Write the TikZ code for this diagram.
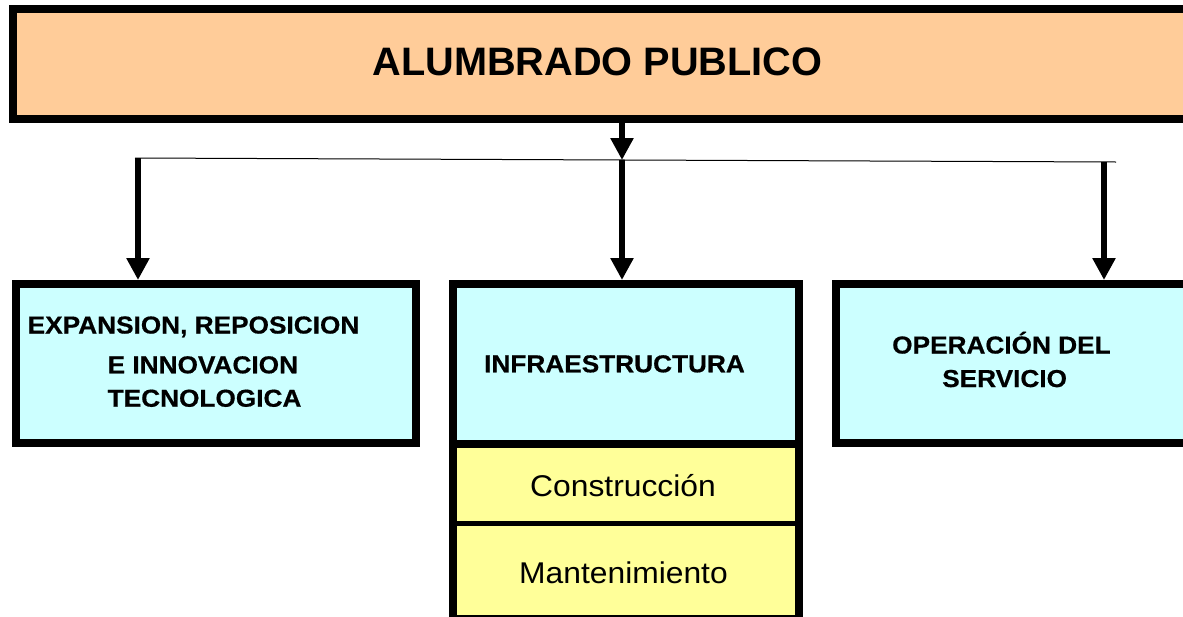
\documentclass[tikz,border=0pt]{standalone}
\usepackage{fontspec}
\setmainfont{Liberation Sans}
\newfontfamily\boldx[FakeStretch=1.07,FakeBold=0.6]{Liberation Sans}
\newfontfamily\regx[FakeStretch=1.06]{Liberation Sans}
\usetikzlibrary{arrows.meta}
\definecolor{peach}{HTML}{FFCC99}
\definecolor{lcyan}{HTML}{CCFFFF}
\definecolor{lyellow}{HTML}{FFFF99}
\begin{document}
\begin{tikzpicture}[x=1pt,y=-1pt,
  box/.style={draw=black,line width=8pt,rectangle,inner sep=0pt},
  ybox/.style={fill=lyellow,rectangle,inner sep=0pt,outer sep=0pt,minimum width=346pt},
  conn/.style={line width=6.5pt,-{Triangle[width=22pt,length=22pt]}},
  title/.style={inner sep=0pt,anchor=base,font=\bfseries\fontsize{39.7}{44}\selectfont},
  btxt/.style={inner sep=0pt,font=\boldx\bfseries\fontsize{24.5}{28}\selectfont},
  rtxt/.style={inner sep=0pt,anchor=base,font=\regx\fontsize{30}{34}\selectfont}]
\useasboundingbox (0,0) rectangle (1183,616);
\clip (0,0) rectangle (1183,616);

% boxes
\node[box,fill=peach,minimum width=1197pt,minimum height=109.5pt] (T) at (611.5,63.75) {};
\node[box,fill=lcyan,minimum width=400pt,minimum height=159pt] (L) at (216,363.5) {};
\node[box,fill=lcyan,minimum width=346pt,minimum height=160pt] (M) at (626,364) {};
\node[box,fill=lcyan,minimum width=374pt,minimum height=159pt] (R) at (1023,363.5) {};
\node[ybox,minimum height=79.5pt] (Y1) at (626,483.75) {};
\node[ybox,minimum height=95.5pt] (Y2) at (626,571.25) {};
\draw[line width=8pt] (Y1.north west) rectangle (Y2.south east);
\draw[line width=5pt] (Y1.south west) -- (Y1.south east);

% texts
\node[title] (tt) at (597.5,75.7) {ALUMBRADO PUBLICO};
\node[btxt,anchor=base west] (lt1) at (27.5,333.5) {EXPANSION, REPOSICION};
\node[btxt,anchor=base west] (lt2) at (107.5,373.3) {E INNOVACION};
\node[btxt,anchor=base west] (lt3) at (107.5,406.7) {TECNOLOGICA};
\node[btxt,anchor=base] (mt) at (614.5,372.3) {INFRAESTRUCTURA};
\node[btxt,anchor=base west] (rt1) at (892,353.5) {OPERACIÓN DEL};
\node[btxt,anchor=base west] (rt2) at (942,387) {SERVICIO};
\node[rtxt] (y1t) at (623,496.5) {Construcción};
\node[rtxt] (y2t) at (623.5,583.5) {Mantenimiento};

% connectors
\coordinate (j) at (622,160);
\coordinate (hl) at (138,158);
\coordinate (hr) at (1104,162);
\coordinate (hle) at (135,158);
\coordinate (hre) at (1116,162);
\draw[line width=1pt] (hle) -- (hre);
\draw[conn] (T.south -| j) -- (j);
\draw[conn] (j) -- (j |- M.north);
\draw[conn] (hl) -- (hl |- L.north);
\draw[conn] (hr) -- (hr |- R.north);
\end{tikzpicture}
\end{document}
